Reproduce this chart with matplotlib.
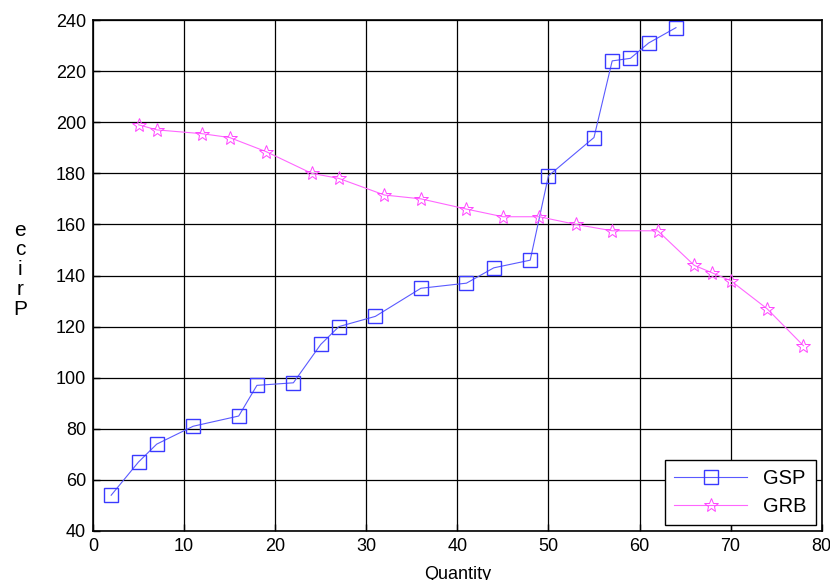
import matplotlib
matplotlib.use("Agg")
import matplotlib.pyplot as plt

plt.rcParams['font.family'] = ['Liberation Sans', 'DejaVu Sans']

# GSP series
gsp_qty = [2, 5, 7, 11, 16, 18, 22, 25, 27, 31, 36, 41, 44, 48, 50, 55, 57, 59, 61, 64]
gsp_price = [54, 67, 74, 81, 85, 97, 98, 113, 120, 124, 135, 137, 143, 146, 179, 194, 224, 225, 231, 237]

# GRB series
grb_qty = [5, 7, 12, 15, 19, 24, 27, 32, 36, 41, 45, 49, 53, 57, 62, 66, 68, 70, 74, 78]
grb_price = [199, 197, 195.5, 194, 188.5, 180, 178, 171.5, 170, 166, 163, 163, 160, 157.5, 157.5, 144, 141, 138, 127, 112.5]

x_ticks = list(range(0, 81, 10))
y_ticks = list(range(40, 241, 20))

fig = plt.figure(figsize=(8.3, 5.8), dpi=100)
ax = fig.add_axes([0.112, 0.0845, 0.878, 0.881])

ax.plot(gsp_qty, gsp_price, color='#5a5aff', lw=0.8, marker='s', markersize=10,
        markerfacecolor='none', markeredgecolor='#3a3aff', markeredgewidth=1.0, label='GSP')
ax.plot(grb_qty, grb_price, color='#ff66ff', lw=0.8, marker='*', markersize=10,
        markerfacecolor='none', markeredgecolor='#ff44ff', markeredgewidth=0.7, label='GRB')

ax.set_xlim(0, 80)
ax.set_ylim(40, 240)
ax.set_xticks(x_ticks)
ax.set_yticks(y_ticks)
ax.grid(True, color='black', linestyle='-', linewidth=0.9)
ax.tick_params(direction='in', labelsize=13, length=5, width=1, pad=5)
for s in ax.spines.values():
    s.set_linewidth(1.2)

ax.set_xlabel('Quantity', fontsize=13, labelpad=8)
fig.text(0.024, 0.535, 'e\nc\ni\nr\nP', fontsize=15, ha='center', va='center',
         linespacing=1.05)

leg = ax.legend(loc='lower right', fontsize=14.5, fancybox=False, framealpha=1,
                edgecolor='black', borderaxespad=0.3, handlelength=3.6,
                handletextpad=0.8, borderpad=0.45, labelspacing=0.45)
leg.get_frame().set_linewidth(1.0)

fig.savefig('out.png', dpi=100)
